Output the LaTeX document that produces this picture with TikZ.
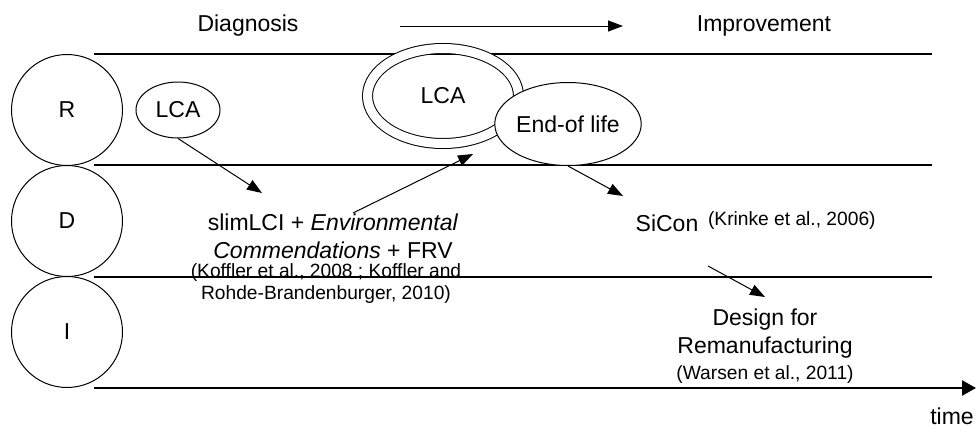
\documentclass[tikz,border=0pt]{standalone}
\usepackage{fontspec}
\setmainfont{Liberation Sans}
\usetikzlibrary{arrows.meta,shapes.geometric}
\newcommand\mainsize{\fontsize{11.5}{14}\selectfont}
\newcommand\citesize{\fontsize{9.6}{11}\selectfont}
\tikzset{
  stage/.style={circle,draw,line width=0.5pt,minimum size=55.5pt,inner sep=0pt},
  oval/.style={ellipse,draw,line width=0.5pt,inner sep=0pt},
  lane/.style={line width=0.6pt},
  flow/.style={-{Triangle[length=7.5pt,width=5.5pt]},line width=0.5pt},
}

\begin{document}
\begin{tikzpicture}[x=0.5pt,y=-0.5pt,font=\mainsize]% R-D-I time line
        \useasboundingbox (0,0) rectangle (976,428);
        % lanes and time axis
        \draw[lane] (94,54)--(932,54);
        \draw[lane] (94,165)--(932,165);
        \draw[lane] (94,277)--(932,277);
        \coordinate (t0) at (94,388);
        \coordinate (t1) at (976,388);
        \draw[-{Triangle[length=7pt,width=7.5pt]},line width=1.2pt] (t0)--(t1);
        \node (time) at (952,416) {time};
        % header
        \node (diag) at (248,26) {Diagnosis};
        \node (impr) at (764,26) {Improvement};
        \coordinate (h0) at (400,26);
        \coordinate (h1) at (623,26);
        \draw[flow] (h0)--(h1);
        % stages
        \node[stage] (R) at (67,110) {R};
        \node[stage] (D) at (67,221) {D};
        \node[stage] (I) at (67,332) {I};
        % tools
        \node[oval,minimum width=42pt,minimum height=28pt] (lca1) at (178,110) {LCA};
        \node[oval,double,double distance=4.5pt,minimum width=75.5pt,minimum height=47.5pt] (lca2) at (443,96) {LCA};
        \node[oval,fill=white,minimum width=70pt,minimum height=41.5pt] (eol) at (568,124) {End-of life};
        \node[align=center] (slim) at (333,236) {slimLCI + \textit{Environmental}\\\textit{Commendations} + FRV};
        \node[align=center,font=\citesize] (slimref) at (326,284) {(Koffler et al., 2008 ; Koffler and\\Rohde-Brandenburger, 2010)};
        \node (sicon) at (667,223) {SiCon};
        \node[font=\citesize,anchor=west] (siref) at (701,221) {(Krinke et al., 2006)};
        \node[align=center] (dfr) at (765,334) {Design for\\Remanufacturing};
        \node[font=\citesize] (dfrref) at (765,375) {(Warsen et al., 2011)};
        % links
        \coordinate (a1) at (262,193);
        \coordinate (a2) at (353,213);
        \coordinate (a3) at (473,154);
        \coordinate (a4) at (623,196);
        \coordinate (a5) at (708,266);
        \coordinate (a6) at (765,297);
        \draw[flow] (lca1.south)--(a1);
        \draw[flow] (a2)--(a3);
        \draw[flow] (eol.south)--(a4);
        \draw[flow] (a5)--(a6);
\end{tikzpicture}
\end{document}
